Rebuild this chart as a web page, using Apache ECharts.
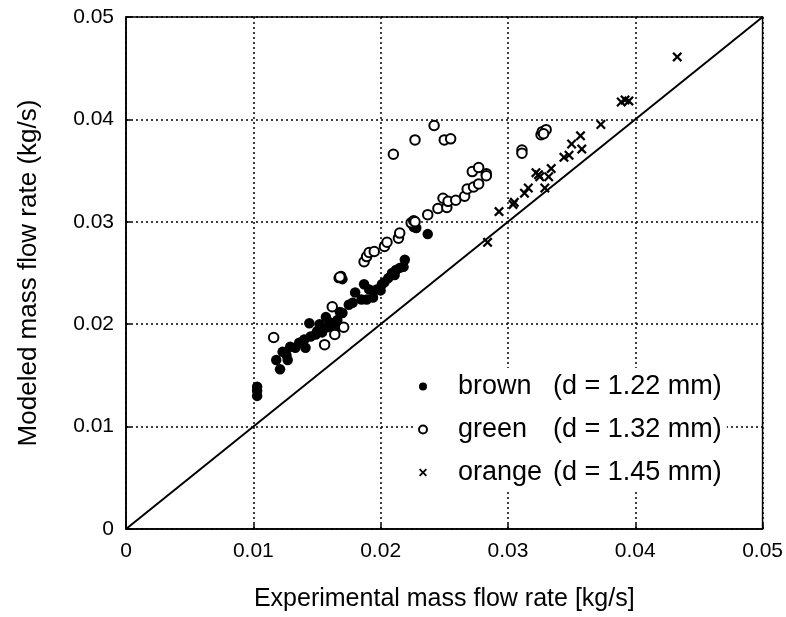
<!DOCTYPE html>
<html><head><meta charset="utf-8">
<script src="https://cdn.jsdelivr.net/npm/echarts@6/dist/echarts.min.js"></script>
<style>html,body{margin:0;padding:0;background:#fff}#c{width:786px;height:617px}</style>
</head><body><div id="c"></div>
<script>
// values in g/s units (multiplied by 0.001 below to kg/s)
var brownPts = [[10.3,13.9],[10.3,13.5],[10.3,13.0],
[11.8,16.5],[12.1,15.6],[12.3,17.3],[12.6,17.0],[12.7,16.5],[12.9,17.8],[13.3,17.7],[13.6,18.2],[14.0,18.5],[14.1,17.7],[14.4,20.1],[14.5,18.8],[14.9,19.0],[15.0,19.3],[15.2,20.0],[15.4,19.2],[15.7,20.7],[15.8,19.7],[16.0,20.2],[16.4,19.5],[16.4,20.1],[16.6,20.4],[16.8,21.2],[17.0,21.1],[16.7,24.5],[17.0,24.4],[16.9,24.7],[17.5,21.9],[17.8,22.1],[18.0,23.1],[18.5,22.4],[18.7,23.9],[18.9,22.4],[19.1,23.4],[19.4,22.6],[19.7,23.4],[20.1,23.9],[20.3,24.1],[20.0,23.3],[20.6,24.5],[20.9,25.0],[21.1,24.8],[21.2,25.3],[21.5,25.5],[21.8,25.6],[21.9,26.3],[22.6,29.5],[22.8,29.4],[23.7,28.8]];
var greenPts = [[11.6,18.7],[15.6,18.0],[16.2,21.7],[16.4,19.0],[17.1,19.7],[16.8,24.6],[18.7,26.1],[18.9,26.6],[19.1,27.0],[19.5,27.1],[20.3,27.6],[20.5,28.0],[21.4,28.4],[21.5,28.9],[22.4,29.9],[22.6,30.1],[21.0,36.6],[22.7,38.0],[24.2,39.4],[25.0,38.0],[25.5,38.1],[22.7,30.0],[23.7,30.7],[24.5,31.3],[24.9,32.3],[25.2,31.4],[25.3,32.0],[25.9,32.1],[26.6,32.5],[26.8,33.2],[27.3,33.4],[27.7,33.7],[27.2,34.9],[27.7,35.3],[28.3,34.7],[28.3,34.5],[31.1,37.0],[31.1,36.7],[32.6,38.5],[32.7,38.8],[33.0,39.0],[32.8,38.6]];
var orangePts = [[28.4,28.0],[29.3,31.0],[30.4,31.7],[30.5,31.9],[31.3,32.8],[31.6,33.3],[32.2,34.8],[32.5,34.4],[32.4,34.6],[32.9,33.3],[33.2,34.4],[33.4,35.2],[34.4,36.3],[34.8,36.5],[35.0,37.6],[35.7,38.4],[35.8,37.1],[37.3,39.5],[38.9,41.7],[39.2,41.9],[39.5,41.8],[43.3,46.1]];
var diagonal = [[0,0],[0.05,0.05]];
var seriesNames = ['brown','green','orange'];
var seriesDiam = ['(d = 1.22 mm)','(d = 1.32 mm)','(d = 1.45 mm)'];

function toKg(a){return a.map(function(p){return [p[0]*0.001,p[1]*0.001];});}
var crossPath = 'path://M0,1.6 L1.6,0 L5,3.4 L8.4,0 L10,1.6 L6.6,5 L10,8.4 L8.4,10 L5,6.6 L1.6,10 L0,8.4 L3.4,5 Z';
var F = 'Liberation Sans, Arial, Helvetica, sans-serif';
var chart = echarts.init(document.getElementById('c'));
function fmt(v){return v===0?'0':String(+v.toFixed(2));}
chart.setOption({
  animation:false,
  backgroundColor:'#fff',
  grid:{left:126,top:17,right:15,bottom:88,show:true,borderColor:'#000',borderWidth:1.5,backgroundColor:'transparent'},
  xAxis:{type:'value',min:0,max:0.05,interval:0.01,
    name:'Experimental mass flow rate [kg/s]',nameLocation:'middle',nameGap:58,
    nameTextStyle:{fontFamily:F,fontSize:25,color:'#000'},
    axisLine:{lineStyle:{color:'#000',width:1.5}},
    axisTick:{inside:true,length:5,lineStyle:{color:'#000',width:1.5}},
    axisLabel:{fontFamily:F,fontSize:21,color:'#000',margin:12,formatter:fmt},
    splitLine:{lineStyle:{color:'#000',type:[2,3],width:1.5}}},
  yAxis:{type:'value',min:0,max:0.05,interval:0.01,
    name:'Modeled mass flow rate (kg/s)',nameLocation:'middle',nameGap:84,
    nameTextStyle:{fontFamily:F,fontSize:26,color:'#000'},
    axisLine:{lineStyle:{color:'#000',width:1.5}},
    axisTick:{inside:true,length:5,lineStyle:{color:'#000',width:1.5}},
    axisLabel:{fontFamily:F,fontSize:21,color:'#000',margin:12,formatter:fmt},
    splitLine:{lineStyle:{color:'#000',type:[2,3],width:1.5}}},
  legend:{orient:'vertical',left:413,top:368,itemGap:16,itemWidth:8,itemHeight:8,
    data:seriesNames,
    formatter:function(n){var i=seriesNames.indexOf(n);return '{a|'+n+'}{b|'+seriesDiam[i]+'}';},
    textStyle:{fontFamily:F,fontSize:27,color:'#000',
      rich:{a:{fontFamily:F,fontSize:27,width:95,padding:[0,0,0,26]},b:{fontFamily:F,fontSize:27}}},
    backgroundColor:'#fff'},
  series:[
    {type:'line',data:diagonal,symbol:'none',lineStyle:{color:'#000',width:2},silent:true,z:1},
    {name:'brown',type:'scatter',data:toKg(brownPts),symbol:'circle',symbolSize:10.5,itemStyle:{color:'#000',opacity:1},z:3},
    {name:'green',type:'scatter',data:toKg(greenPts),symbol:'circle',symbolSize:9.5,itemStyle:{color:'#fff',borderColor:'#000',borderWidth:2,opacity:1},z:3},
    {name:'orange',type:'scatter',data:toKg(orangePts),symbol:crossPath,symbolSize:10,itemStyle:{color:'#000',opacity:1},z:3}
  ]
});
</script></body></html>
